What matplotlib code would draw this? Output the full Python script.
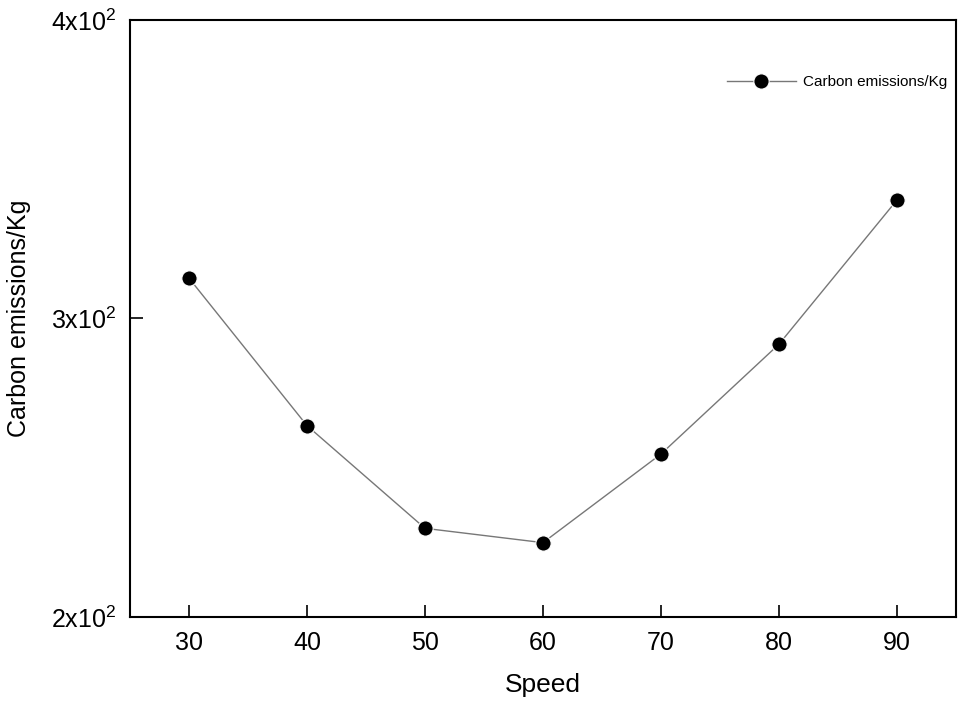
import matplotlib
matplotlib.use('Agg')
import matplotlib.pyplot as plt
from matplotlib.ticker import FixedLocator, FixedFormatter

plt.rcParams['font.family'] = ['Liberation Sans', 'DejaVu Sans']
plt.rcParams['mathtext.fontset'] = 'custom'
plt.rcParams['mathtext.rm'] = 'Liberation Sans'
plt.rcParams['mathtext.it'] = 'Liberation Sans'
plt.rcParams['mathtext.default'] = 'regular'

speed = [30, 40, 50, 60, 70, 80, 90]
emissions = [313.5, 264.1, 229.7, 224.9, 254.6, 291.4, 339.7]

y_ticks = [200, 300, 400]
y_labels = ['2x10$^2$', '3x10$^2$', '4x10$^2$']

fig = plt.figure(figsize=(9.61, 7.04), dpi=100)
ax = fig.add_axes([0.1353, 0.1236, 0.8595, 0.848])

ax.plot(speed, emissions, color='#777777', linewidth=1.0, marker='o',
        markersize=11, markerfacecolor='black', markeredgecolor='white',
        markeredgewidth=0.8, label='Carbon emissions/Kg')

ax.set_xlim(25, 95)
ax.set_ylim(200, 400)
ax.set_xticks(speed)
ax.yaxis.set_major_locator(FixedLocator(y_ticks))
ax.yaxis.set_major_formatter(FixedFormatter(y_labels))

for s in ax.spines.values():
    s.set_linewidth(1.5)
ax.tick_params(direction='in', length=9, width=1.2, labelsize=18, pad=10)

ax.set_xlabel('Speed', fontsize=19, labelpad=13)
ax.set_ylabel('Carbon emissions/Kg', fontsize=18, labelpad=14)

ax.legend(loc='center left', bbox_to_anchor=(0.7228, 0.896), frameon=False,
          fontsize=11, handlelength=4.5, handletextpad=0.5,
          borderpad=0, borderaxespad=0)

fig.savefig('out.png', dpi=100)
